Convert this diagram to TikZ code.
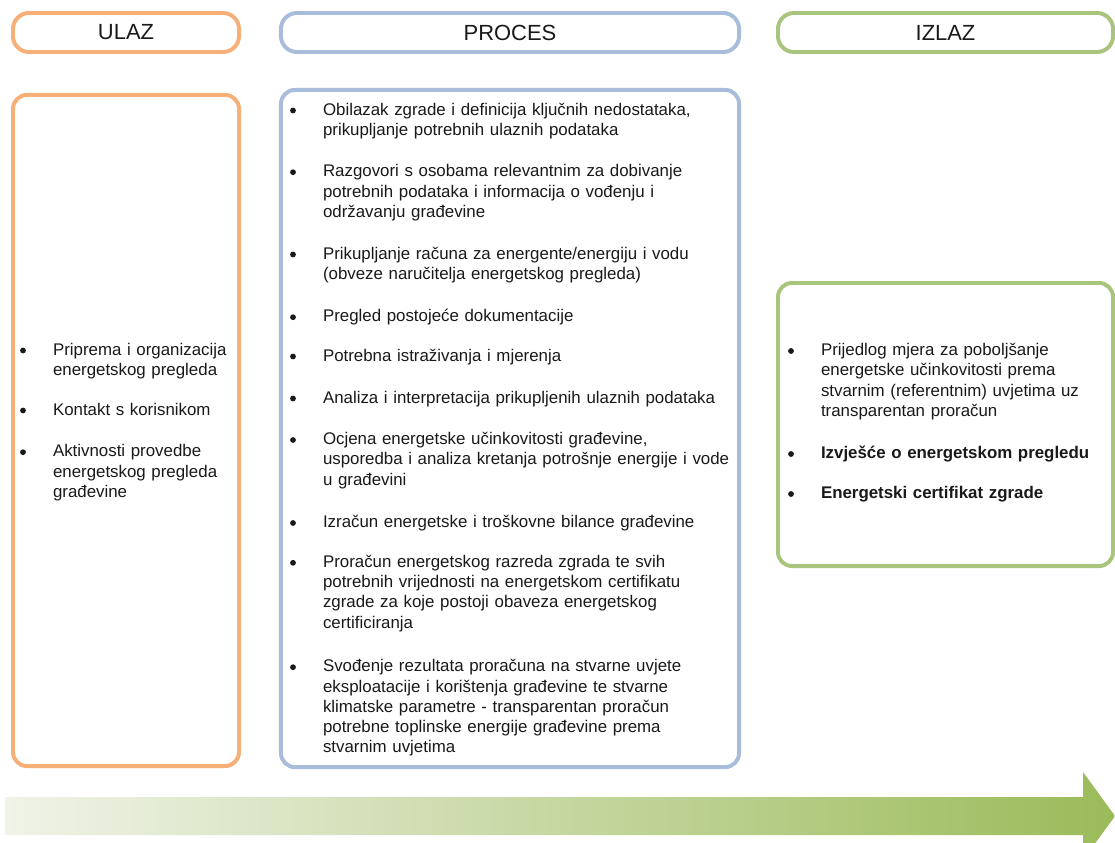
\documentclass[tikz,border=0pt]{standalone}
\usepackage{fontspec}
\setmainfont{Liberation Sans}
\usetikzlibrary{calc}
\definecolor{cOrange}{RGB}{247,175,120}
\definecolor{cBlue}{RGB}{167,189,219}
\definecolor{cGreen}{RGB}{169,196,125}
\definecolor{cArrL}{RGB}{240,243,232}
\definecolor{cArrR}{RGB}{155,187,89}
\definecolor{cText}{RGB}{25,25,25}
\begin{document}
\begin{tikzpicture}[x=0.025cm,y=-0.025cm,
  hdr/.style={draw=#1, line width=2.8pt, rounded corners=0.4cm, inner sep=0pt, outer sep=0pt,
    minimum height=0.975cm, text=cText, font=\fontsize{15.6}{18}\selectfont},
  panel/.style={draw=#1, line width=2.8pt, rounded corners=0.35cm, inner sep=0pt, outer sep=0pt},
  txt/.style={anchor=base west, inner sep=0pt, outer sep=0pt, align=left, text width=11cm,
    text=cText, font=\fontsize{12}{14.45}\selectfont},
  btxt/.style={txt, font=\fontsize{12}{14.45}\selectfont\bfseries},
  bul/.style={circle, fill=cText, inner sep=0pt, minimum size=0.145cm}]
\useasboundingbox (0,0) rectangle (1115,842);
\clip (0,0) rectangle (1115,842);

% headers
\node[hdr=cOrange, minimum width=5.65cm] (hU) at (126,32.5) {ULAZ};
\node[hdr=cBlue, minimum width=11.45cm] (hP) at (510,32.5) {PROCES};
\node[hdr=cGreen, minimum width=8.375cm] (hI) at (945.5,32.5) {IZLAZ};

% panels
\node[panel=cOrange, minimum width=5.65cm, minimum height=16.775cm] (pU) at (126,430.5) {};
\node[panel=cBlue, minimum width=11.45cm, minimum height=16.925cm] (pP) at (510,428.5) {};
\node[panel=cGreen, minimum width=8.375cm, minimum height=7.075cm] (pI) at (945.5,424.5) {};

% ULAZ items
\node[txt] (u1) at (53,355) {Priprema i organizacija\\energetskog pregleda};
\node[txt] (u2) at (53,415) {Kontakt s korisnikom};
\node[txt] (u3) at (53,456.7) {Aktivnosti provedbe\\energetskog pregleda\\građevine};

% PROCES items
\node[txt] (m1) at (323,115) {Obilazak zgrade i definicija ključnih nedostataka,\\prikupljanje potrebnih ulaznih podataka};
\node[txt] (m2) at (323,176.7) {Razgovori s osobama relevantnim za dobivanje\\potrebnih podataka i informacija o vođenju i\\održavanju građevine};
\node[txt] (m3) at (323,259) {Prikupljanje računa za energente/energiju i vodu\\(obveze naručitelja energetskog pregleda)};
\node[txt] (m4) at (323,321.7) {Pregled postojeće dokumentacije};
\node[txt] (m5) at (323,361) {Potrebna istraživanja i mjerenja};
\node[txt] (m6) at (323,403) {Analiza i interpretacija prikupljenih ulaznih podataka};
\node[txt] (m7) at (323,444.5) {Ocjena energetske učinkovitosti građevine,\\usporedba i analiza kretanja potrošnje energije i vode\\u građevini};
\node[txt] (m8) at (323,527.5) {Izračun energetske i troškovne bilance građevine};
\node[txt] (m9) at (323,567.3) {Proračun energetskog razreda zgrada te svih\\potrebnih vrijednosti na energetskom certifikatu\\zgrade za koje postoji obaveza energetskog\\certificiranja};
\node[txt] (m10) at (323,671.7) {Svođenje rezultata proračuna na stvarne uvjete\\eksploatacije i korištenja građevine te stvarne\\klimatske parametre - transparentan proračun\\potrebne toplinske energije građevine prema\\stvarnim uvjetima};

% IZLAZ items
\node[txt] (i1) at (821,355.5) {Prijedlog mjera za poboljšanje\\energetske učinkovitosti prema\\stvarnim (referentnim) uvjetima uz\\transparentan proračun};
\node[btxt] (i2) at (821,458.5) {Izvješće o energetskom pregledu};
\node[btxt] (i3) at (821,498.5) {Energetski certifikat zgrade};

% bullets
\foreach \n in {u1,u2,u3,m1,m2,m3,m4,m5,m6,m7,m8,m9,m10,i1,i2,i3}
  \node[bul] (b\n) at ($(\n.base west)+(-30,-4.5)$) {};

% process arrow
\shade[left color=cArrL, right color=cArrR]
  (5,797) -- (1083,797) -- (1083,772) -- (1115,816) -- (1083,860) -- (1083,835) -- (5,835) -- cycle;
\end{tikzpicture}
\end{document}
